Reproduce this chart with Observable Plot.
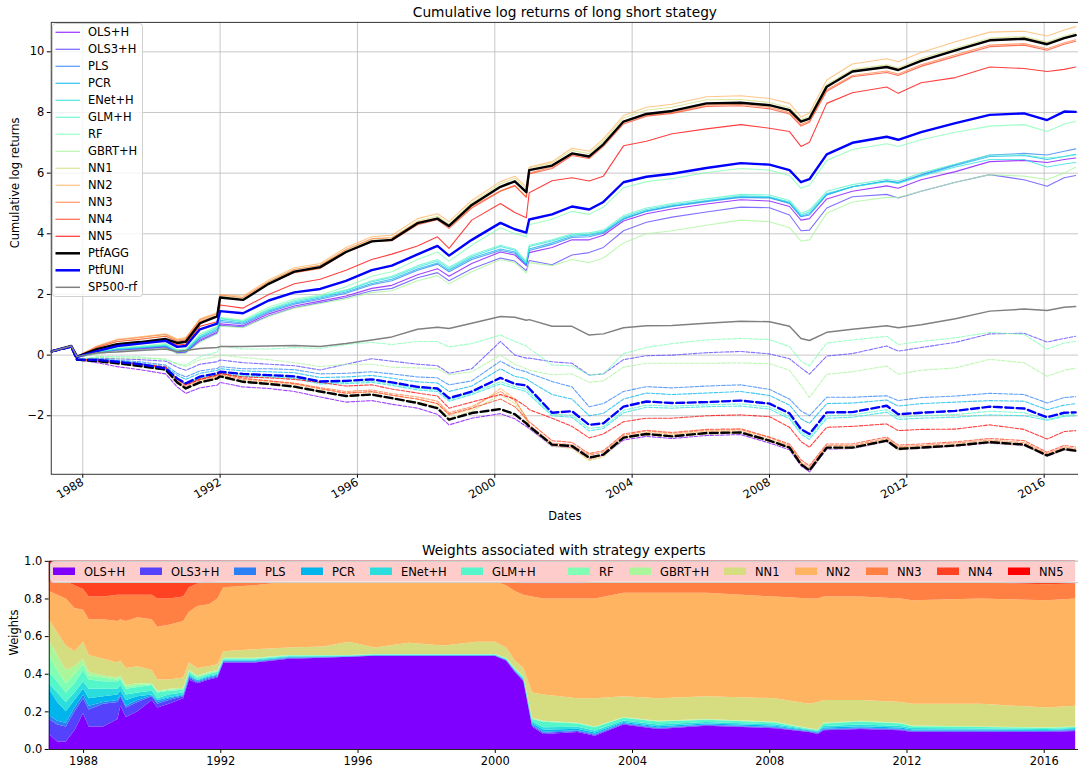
<!DOCTYPE html>
<html><head><meta charset="utf-8">
<script src="https://cdn.jsdelivr.net/npm/d3@7"></script>
<script src="https://cdn.jsdelivr.net/npm/@observablehq/plot@0.6"></script>
<style>
html,body{margin:0;padding:0;background:#fff;overflow:hidden;}
#root{position:relative;width:1078px;height:773px;overflow:hidden;font-family:"DejaVu Sans",sans-serif;}
#top{position:absolute;left:0;top:0;}
#bottom{position:absolute;left:0;top:530px;}
#leg1,#leg2{position:absolute;left:0;top:0;}
</style></head><body>
<div id="root"><div id="top"></div><div id="bottom"></div><svg id="leg1"></svg><svg id="leg2"></svg></div>
<script>
// ---------- categories & ticks ----------
const expertNames = ["OLS+H","OLS3+H","PLS","PCR","ENet+H","GLM+H","RF","GBRT+H","NN1","NN2","NN3","NN4","NN5"];
const legendNames = ["OLS+H","OLS3+H","PLS","PCR","ENet+H","GLM+H","RF","GBRT+H","NN1","NN2","NN3","NN4","NN5","PtfAGG","PtfUNI","SP500-rf"];
const xTickYears = [1988,1992,1996,2000,2004,2008,2012,2016];
const yTicksTop = [-2,0,2,4,6,8,10];
const yTicksBottom = [0,0.2,0.4,0.6,0.8,1.0];

// ---------- top chart: dates (monthly knots) ----------
const dates = ["1987-02","1987-09","1987-11","1988-06","1989-01","1989-09","1990-06","1990-10","1991-01","1991-06","1991-12","1992-01","1992-09","1993-06","1994-03","1994-12","1995-09","1996-06","1997-01","1997-10","1998-05","1998-09","1999-05","2000-03","2000-08","2000-12","2001-01","2001-09","2002-04","2002-10","2003-03","2003-10","2004-06","2005-03","2006-03","2007-03","2008-01","2008-08","2008-12","2009-03","2009-09","2010-06","2011-06","2011-10","2012-06","2013-06","2014-06","2015-06","2016-02","2016-08","2016-12"];

// long (solid) cumulative log returns
const OLS_H  = [0.12,0.29,-0.07,0.06,0.16,0.21,0.27,0.08,0.10,0.50,0.75,1.03,0.97,1.36,1.62,1.78,1.95,2.20,2.30,2.65,2.85,2.60,3.02,3.40,3.30,2.95,3.38,3.55,3.80,3.80,3.95,4.42,4.66,4.82,4.98,5.12,5.08,4.90,4.45,4.50,5.15,5.40,5.58,5.50,5.78,6.05,6.38,6.42,6.35,6.45,6.50];
const OLS3_H = [0.12,0.29,-0.07,0.05,0.14,0.19,0.25,0.06,0.08,0.46,0.72,0.98,0.93,1.30,1.57,1.73,1.90,2.12,2.20,2.55,2.72,2.45,2.85,3.20,3.10,2.78,3.12,2.98,3.30,3.38,3.55,4.10,4.38,4.55,4.72,4.88,4.86,4.62,4.10,4.12,4.85,5.22,5.30,5.18,5.40,5.70,5.95,5.78,5.57,5.85,5.92];
const PLS    = [0.12,0.29,-0.07,0.07,0.18,0.23,0.29,0.10,0.12,0.55,0.80,1.10,1.02,1.41,1.68,1.84,2.04,2.32,2.45,2.80,3.00,2.75,3.15,3.45,3.36,2.98,3.45,3.65,3.88,3.90,4.02,4.48,4.74,4.90,5.06,5.20,5.18,5.00,4.56,4.62,5.28,5.55,5.75,5.70,5.95,6.28,6.60,6.65,6.60,6.72,6.80];
const PCR    = [0.12,0.29,-0.07,0.08,0.20,0.25,0.31,0.12,0.14,0.58,0.85,1.15,1.06,1.45,1.72,1.88,2.08,2.36,2.50,2.84,3.04,2.80,3.20,3.50,3.40,3.00,3.50,3.70,3.92,3.95,4.05,4.50,4.76,4.92,5.08,5.22,5.20,5.02,4.58,4.66,5.30,5.55,5.74,5.68,5.92,6.25,6.55,6.58,6.45,6.55,6.62];
const ENet_H = [0.12,0.29,-0.07,0.09,0.21,0.26,0.33,0.14,0.16,0.62,0.90,1.20,1.10,1.49,1.76,1.92,2.12,2.42,2.56,2.90,3.10,2.85,3.25,3.58,3.46,3.05,3.58,3.76,3.96,3.98,4.08,4.55,4.80,4.96,5.10,5.25,5.22,5.05,4.62,4.72,5.33,5.55,5.72,5.66,5.90,6.20,6.45,6.45,6.20,6.30,6.35];
const GLM_H  = [0.12,0.29,-0.07,0.10,0.22,0.28,0.35,0.16,0.18,0.65,0.93,1.22,1.12,1.52,1.80,1.95,2.15,2.45,2.60,2.95,3.15,2.90,3.30,3.62,3.50,3.10,3.62,3.80,4.00,4.03,4.12,4.60,4.85,5.00,5.15,5.30,5.28,5.10,4.68,4.78,5.40,5.62,5.80,5.75,6.00,6.30,6.60,6.60,6.50,6.55,6.60];
const RF     = [0.12,0.29,-0.07,0.10,0.25,0.30,0.38,0.18,0.20,0.70,0.95,1.25,1.15,1.58,1.85,1.98,2.25,2.60,2.75,3.15,3.40,3.10,3.62,4.20,4.00,3.90,4.30,4.48,4.74,4.64,4.88,5.52,5.72,5.82,6.02,6.15,6.10,5.92,5.50,5.60,6.42,6.78,6.97,6.88,7.10,7.35,7.55,7.60,7.37,7.62,7.70];
const GBRT_H = [0.12,0.29,-0.07,0.04,0.13,0.17,0.23,0.05,0.06,0.42,0.70,0.95,0.90,1.27,1.55,1.70,1.85,2.06,2.12,2.45,2.62,2.35,2.75,3.15,3.05,2.70,3.05,2.95,3.15,3.05,3.20,3.70,4.00,4.10,4.28,4.45,4.40,4.20,3.76,3.80,4.68,5.05,5.20,5.20,5.40,5.70,5.95,5.90,5.79,6.00,6.20];
const NN1    = [0.12,0.30,-0.05,0.26,0.45,0.53,0.63,0.47,0.52,1.12,1.33,1.95,1.88,2.42,2.82,2.96,3.46,3.82,3.87,4.42,4.58,4.32,5.02,5.65,5.83,5.47,6.17,6.33,6.75,6.64,7.05,7.82,8.08,8.17,8.42,8.43,8.33,8.16,7.76,7.88,8.92,9.42,9.57,9.47,9.78,10.12,10.45,10.50,10.32,10.52,10.62];
const NN2    = [0.12,0.31,-0.04,0.30,0.52,0.60,0.70,0.53,0.58,1.20,1.40,2.00,1.95,2.48,2.88,3.02,3.55,3.90,3.95,4.50,4.66,4.40,5.10,5.72,5.90,5.55,6.20,6.38,6.82,6.72,7.13,7.90,8.17,8.27,8.52,8.55,8.46,8.30,7.85,7.98,9.07,9.60,9.77,9.67,9.98,10.33,10.65,10.68,10.52,10.72,10.83];
const NN3    = [0.12,0.30,-0.05,0.28,0.50,0.58,0.68,0.50,0.55,1.17,1.36,1.98,1.90,2.42,2.82,2.96,3.48,3.84,3.87,4.38,4.52,4.22,4.90,5.42,5.60,5.22,6.00,6.20,6.62,6.52,6.93,7.68,7.92,8.00,8.25,8.27,8.17,8.00,7.60,7.72,8.75,9.22,9.37,9.27,9.57,9.90,10.22,10.27,10.10,10.30,10.40];
const NN4    = [0.12,0.29,-0.06,0.25,0.45,0.52,0.62,0.45,0.50,1.10,1.30,1.90,1.82,2.36,2.72,2.86,3.38,3.74,3.77,4.30,4.46,4.18,4.85,5.40,5.58,5.20,5.97,6.15,6.58,6.48,6.88,7.62,7.88,7.97,8.20,8.22,8.12,7.95,7.55,7.68,8.70,9.18,9.32,9.22,9.52,9.85,10.17,10.22,10.05,10.25,10.35];
const NN5    = [0.12,0.29,-0.07,0.20,0.36,0.42,0.50,0.33,0.36,0.95,1.10,1.65,1.55,2.00,2.35,2.50,2.80,3.15,3.33,3.60,3.90,3.52,4.45,5.00,4.70,4.53,5.35,5.75,5.85,5.74,5.90,6.90,7.05,7.30,7.46,7.60,7.48,7.37,6.88,7.02,8.30,8.65,8.84,8.63,8.98,9.15,9.50,9.45,9.35,9.42,9.50];
const PtfAGG = [0.12,0.30,-0.05,0.20,0.36,0.43,0.53,0.40,0.44,1.05,1.28,1.90,1.82,2.35,2.75,2.90,3.40,3.75,3.80,4.35,4.50,4.26,4.95,5.55,5.73,5.37,6.10,6.25,6.65,6.55,6.95,7.70,7.95,8.05,8.30,8.32,8.24,8.08,7.70,7.80,8.85,9.35,9.50,9.40,9.70,10.05,10.38,10.43,10.25,10.45,10.55];
const PtfUNI = [0.12,0.29,-0.06,0.13,0.30,0.38,0.47,0.27,0.30,0.85,1.04,1.45,1.38,1.80,2.07,2.18,2.45,2.80,2.95,3.32,3.60,3.28,3.80,4.36,4.15,4.04,4.47,4.64,4.90,4.80,5.05,5.70,5.88,5.98,6.17,6.33,6.28,6.10,5.70,5.80,6.62,7.00,7.20,7.10,7.35,7.65,7.92,7.97,7.75,8.03,8.02];
const SP500_rf = [0.12,0.30,-0.05,0.08,0.10,0.15,0.20,0.12,0.15,0.22,0.25,0.28,0.28,0.30,0.32,0.28,0.38,0.50,0.60,0.85,0.92,0.88,1.05,1.27,1.25,1.15,1.17,0.95,0.95,0.66,0.70,0.90,0.97,0.98,1.05,1.12,1.10,0.95,0.55,0.48,0.75,0.85,0.97,0.90,1.00,1.20,1.45,1.52,1.47,1.58,1.60];

// short (dashed) cumulative log returns
const OLS_H_s  = [0.12,0.28,-0.15,-0.25,-0.38,-0.48,-0.62,-1.05,-1.26,-1.08,-0.99,-0.90,-1.05,-1.10,-1.20,-1.38,-1.55,-1.50,-1.62,-1.75,-1.95,-2.30,-2.08,-1.93,-2.10,-2.35,-2.42,-3.00,-3.05,-3.40,-3.30,-2.80,-2.68,-2.75,-2.65,-2.62,-2.90,-3.12,-3.65,-3.85,-3.10,-3.08,-2.85,-3.12,-3.07,-3.00,-2.90,-2.98,-3.33,-3.12,-3.18];
const OLS3_H_s = [0.12,0.28,-0.15,-0.10,-0.12,-0.15,-0.20,-0.40,-0.50,-0.30,-0.22,-0.16,-0.25,-0.30,-0.35,-0.49,-0.30,-0.12,-0.20,-0.30,-0.35,-0.60,-0.45,0.45,0.00,-0.10,-0.10,-0.22,-0.27,-0.66,-0.62,-0.15,-0.02,0.00,0.08,0.12,0.04,-0.12,-0.42,-0.63,-0.03,0.05,0.30,0.13,0.25,0.42,0.70,0.72,0.43,0.55,0.62];
const PLS_s    = [0.12,0.28,-0.15,-0.12,-0.17,-0.22,-0.33,-0.60,-0.72,-0.52,-0.44,-0.38,-0.45,-0.45,-0.48,-0.62,-0.60,-0.55,-0.62,-0.72,-0.75,-0.98,-0.85,-0.20,-0.45,-0.55,-0.60,-0.87,-1.05,-1.70,-1.60,-1.20,-1.04,-1.08,-1.02,-0.98,-1.13,-1.45,-1.84,-2.00,-1.39,-1.39,-1.34,-1.50,-1.40,-1.35,-1.26,-1.30,-1.58,-1.40,-1.37];
const PCR_s    = [0.12,0.28,-0.15,-0.13,-0.19,-0.26,-0.38,-0.66,-0.80,-0.60,-0.50,-0.45,-0.52,-0.55,-0.58,-0.74,-0.72,-0.67,-0.76,-0.88,-0.92,-1.20,-1.02,-0.45,-0.70,-0.78,-0.85,-1.30,-1.45,-2.00,-1.92,-1.45,-1.25,-1.30,-1.25,-1.20,-1.33,-1.65,-2.10,-2.25,-1.60,-1.58,-1.48,-1.68,-1.60,-1.55,-1.50,-1.52,-1.80,-1.65,-1.60];
const ENet_H_s = [0.12,0.28,-0.15,-0.17,-0.24,-0.33,-0.47,-0.80,-0.96,-0.76,-0.66,-0.62,-0.70,-0.72,-0.77,-0.95,-0.94,-0.90,-1.00,-1.15,-1.20,-1.52,-1.30,-0.95,-1.10,-1.20,-1.30,-2.00,-2.05,-2.50,-2.42,-1.90,-1.72,-1.75,-1.70,-1.68,-1.78,-2.10,-2.60,-2.78,-2.08,-2.05,-1.88,-2.12,-2.08,-2.05,-1.97,-2.00,-2.15,-2.02,-2.00];
const GLM_H_s  = [0.12,0.28,-0.15,-0.16,-0.23,-0.31,-0.45,-0.78,-0.94,-0.74,-0.63,-0.58,-0.66,-0.69,-0.74,-0.91,-0.90,-0.86,-0.96,-1.10,-1.15,-1.47,-1.25,-0.88,-1.04,-1.12,-1.22,-1.95,-1.98,-2.42,-2.36,-1.82,-1.65,-1.68,-1.64,-1.61,-1.71,-2.03,-2.53,-2.70,-2.00,-1.97,-1.80,-2.05,-2.00,-1.96,-1.85,-1.90,-2.12,-1.98,-1.96];
const RF_s     = [0.12,0.28,-0.15,-0.05,-0.05,-0.06,-0.16,-0.28,-0.33,-0.05,0.10,0.30,0.20,0.20,0.25,0.22,0.35,0.42,0.35,0.45,0.45,0.27,0.38,0.66,0.45,0.30,0.22,-0.33,-0.35,-0.66,-0.62,0.05,0.25,0.38,0.50,0.55,0.51,0.28,-0.20,-0.36,0.40,0.50,0.62,0.35,0.45,0.57,0.75,0.68,0.20,0.40,0.45];
const GBRT_H_s = [0.12,0.28,-0.15,-0.08,-0.10,-0.10,-0.12,-0.30,-0.38,-0.15,-0.05,0.00,-0.08,-0.15,-0.25,-0.38,-0.30,-0.30,-0.40,-0.42,-0.45,-0.65,-0.55,0.00,-0.30,-0.45,-0.50,-0.65,-0.62,-0.90,-0.85,-0.40,-0.27,-0.27,-0.27,-0.26,-0.28,-0.50,-1.00,-1.40,-0.63,-0.55,-0.36,-0.63,-0.50,-0.42,-0.14,-0.25,-0.70,-0.50,-0.43];
const NN1_s    = [0.12,0.28,-0.15,-0.21,-0.29,-0.38,-0.50,-0.92,-1.12,-0.92,-0.79,-0.72,-0.90,-0.97,-1.06,-1.22,-1.37,-1.32,-1.44,-1.55,-1.70,-2.08,-1.85,-1.30,-1.60,-2.15,-2.38,-3.00,-3.08,-3.48,-3.36,-2.76,-2.62,-2.69,-2.60,-2.58,-2.85,-3.08,-3.62,-3.82,-3.08,-3.08,-2.85,-3.12,-3.08,-3.00,-2.90,-2.98,-3.34,-3.13,-3.18];
const NN2_s    = [0.12,0.28,-0.15,-0.19,-0.25,-0.33,-0.45,-0.86,-1.06,-0.86,-0.73,-0.66,-0.84,-0.90,-0.97,-1.12,-1.27,-1.22,-1.33,-1.45,-1.60,-1.98,-1.78,-1.10,-1.45,-2.10,-2.35,-2.97,-3.05,-3.45,-3.32,-2.72,-2.55,-2.62,-2.52,-2.50,-2.78,-3.02,-3.58,-3.80,-3.02,-3.02,-2.78,-3.06,-3.02,-2.95,-2.84,-2.92,-3.30,-3.07,-3.12];
const NN3_s    = [0.12,0.28,-0.15,-0.18,-0.24,-0.31,-0.42,-0.83,-1.02,-0.82,-0.70,-0.63,-0.80,-0.85,-0.92,-1.07,-1.20,-1.15,-1.27,-1.38,-1.52,-1.90,-1.70,-1.20,-1.50,-2.05,-2.30,-2.90,-2.95,-3.30,-3.20,-2.65,-2.50,-2.58,-2.48,-2.46,-2.72,-2.98,-3.52,-3.72,-2.98,-2.98,-2.75,-3.02,-2.98,-2.90,-2.80,-2.88,-3.25,-3.03,-3.08];
const NN4_s    = [0.12,0.28,-0.15,-0.17,-0.22,-0.29,-0.39,-0.80,-0.98,-0.79,-0.67,-0.60,-0.76,-0.85,-0.94,-1.10,-1.25,-1.20,-1.32,-1.45,-1.60,-1.95,-1.75,-1.45,-1.70,-2.10,-2.20,-2.82,-2.88,-3.25,-3.15,-2.60,-2.48,-2.55,-2.45,-2.43,-2.70,-2.93,-3.45,-3.65,-2.93,-2.93,-2.70,-2.97,-2.93,-2.86,-2.75,-2.82,-3.20,-2.98,-3.03];
const NN5_s    = [0.12,0.28,-0.15,-0.15,-0.22,-0.30,-0.40,-0.78,-0.98,-0.80,-0.65,-0.60,-0.72,-0.75,-0.80,-0.90,-1.02,-0.98,-1.12,-1.25,-1.35,-1.75,-1.55,-1.30,-1.45,-1.70,-1.80,-2.08,-2.35,-2.73,-2.60,-2.20,-2.08,-2.08,-2.00,-1.97,-2.03,-2.38,-2.85,-3.04,-2.38,-2.35,-2.27,-2.49,-2.45,-2.44,-2.30,-2.45,-2.77,-2.52,-2.49];
const PtfAGG_s = [0.12,0.28,-0.15,-0.20,-0.27,-0.36,-0.48,-0.90,-1.10,-0.90,-0.77,-0.70,-0.88,-0.95,-1.04,-1.20,-1.35,-1.30,-1.42,-1.58,-1.75,-2.13,-1.91,-1.78,-1.95,-2.25,-2.35,-2.95,-3.00,-3.38,-3.28,-2.72,-2.60,-2.68,-2.57,-2.55,-2.82,-3.05,-3.60,-3.80,-3.05,-3.05,-2.82,-3.09,-3.05,-2.98,-2.87,-2.95,-3.31,-3.10,-3.15];
const PtfUNI_s = [0.12,0.28,-0.15,-0.16,-0.22,-0.30,-0.44,-0.77,-0.93,-0.71,-0.60,-0.55,-0.62,-0.66,-0.70,-0.87,-0.85,-0.80,-0.90,-1.05,-1.10,-1.42,-1.20,-0.75,-0.95,-1.00,-1.10,-1.90,-1.85,-2.30,-2.25,-1.70,-1.53,-1.58,-1.55,-1.50,-1.60,-1.92,-2.44,-2.60,-1.89,-1.88,-1.67,-1.95,-1.90,-1.84,-1.70,-1.76,-2.05,-1.90,-1.89];

// ---------- bottom chart: weights ----------
const wDates = ["1987-01","1987-04","1987-07","1987-10","1988-01","1988-03","1988-08","1989-01","1989-02","1989-04","1989-08","1990-01","1990-03","1990-07","1990-12","1991-02","1991-05","1991-09","1991-12","1992-02","1993-01","1994-01","1995-01","1995-10","1996-07","1997-07","1998-07","1999-07","2000-01","2000-05","2000-08","2000-11","2001-02","2001-06","2002-06","2002-12","2003-10","2004-10","2006-03","2008-03","2009-03","2009-06","2009-08","2010-09","2011-11","2012-03","2014-03","2016-02","2016-12"];
const w_OLS_H  = [.08,.04,.04,.10,.19,.12,.12,.16,.23,.17,.20,.26,.22,.24,.27,.37,.35,.37,.38,.46,.46,.48,.485,.49,.495,.495,.495,.495,.495,.47,.41,.36,.12,.08,.09,.07,.13,.106,.124,.11,.09,.08,.10,.106,.10,.09,.09,.09,.095];
const w_OLS3_H = [.08,.09,.08,.10,.08,.09,.12,.09,.05,.05,.05,.02,.02,.02,.01,.01,.005,.005,.005,.003,.003,.003,.002,.001,.001,.001,.001,.001,.001,.002,.003,.004,.005,.006,.005,.005,.004,.004,.003,.004,.003,.004,.004,.004,.004,.004,.004,.004,.004];
const w_PLS    = [.02,.02,.02,.02,.02,.02,.01,.01,.01,.01,.01,.005,.01,.01,.005,.005,.005,.005,.005,.003,.003,.003,.002,.001,.001,.001,.001,.001,.001,.002,.003,.003,.005,.006,.005,.005,.004,.004,.003,.004,.003,.003,.004,.004,.004,.004,.004,.003,.003];
const w_PCR    = [.14,.10,.06,.04,.03,.04,.03,.03,.02,.03,.02,.005,.01,.005,.005,.005,.005,.005,.005,.004,.004,.003,.002,.002,.002,.002,.002,.002,.002,.002,.003,.004,.008,.01,.008,.008,.006,.007,.006,.006,.003,.004,.006,.007,.006,.006,.005,.004,.004];
const w_ENet_H = [.03,.05,.05,.04,.04,.05,.04,.03,.03,.03,.02,.02,.01,.015,.01,.01,.005,.005,.005,.005,.005,.004,.003,.002,.002,.002,.002,.002,.002,.003,.004,.005,.01,.014,.01,.01,.008,.009,.008,.007,.004,.005,.008,.009,.008,.007,.006,.005,.005];
const w_GLM_H  = [.06,.06,.05,.05,.06,.05,.04,.04,.03,.03,.03,.03,.03,.02,.015,.01,.01,.01,.01,.005,.005,.004,.003,.002,.002,.002,.002,.002,.002,.003,.005,.006,.012,.029,.017,.017,.014,.016,.012,.01,.005,.006,.014,.016,.014,.01,.008,.006,.006];
const w_RF     = [.09,.06,.05,.05,.03,.02,.02,.01,.01,.01,.01,.005,.005,.005,.005,.005,.005,.005,.005,.003,.003,.002,.002,.001,.001,.001,.001,.001,.001,.002,.001,.002,.003,.003,.003,.003,.002,.002,.002,.002,.001,.002,.002,.002,.002,.002,.002,.002,.002];
const w_GBRT_H = [.08,.08,.07,.04,.03,.02,.01,.01,.01,.01,.01,.005,.005,.005,.005,.005,.005,.005,.005,.002,.002,.001,.001,.001,.001,.001,.001,.001,.001,.001,.001,.001,.002,.002,.002,.002,.002,.002,.002,.002,.001,.001,.002,.002,.002,.002,.001,.001,.001];
const w_NN1    = [.11,.12,.13,.08,.09,.09,.09,.08,.08,.09,.09,.07,.06,.05,.055,.04,.04,.03,.03,.035,.045,.04,.045,.07,.035,.06,.045,.065,.065,.055,.04,.045,.135,.14,.13,.15,.11,.12,.12,.125,.13,.145,.12,.11,.11,.115,.12,.105,.11];
const w_NN2    = [.15,.20,.25,.23,.17,.19,.21,.22,.22,.25,.26,.27,.28,.29,.30,.27,.33,.33,.35,.34,.34,.35,.345,.32,.35,.325,.34,.32,.32,.33,.37,.39,.51,.51,.53,.53,.55,.56,.55,.54,.56,.55,.55,.55,.55,.55,.56,.57,.57];
const w_NN3    = [.05,.07,.09,.12,.11,.12,.12,.14,.13,.14,.12,.13,.15,.14,.13,.13,.12,.115,.09,.03,.02,0,0,0,0,0,0,0,0,.02,.05,.06,.07,.08,.08,.085,.06,.06,.06,.08,.09,.09,.08,.08,.09,.095,.085,.085,.08];
const w_NN4    = [0,0,0,.02,.04,.08,.08,.07,.07,.07,.07,.07,.09,.09,.08,.03,.01,0,0,0,0,0,0,0,0,0,0,0,0,0,0,.005,.005,.005,.005,.005,0,0,0,0,0,0,0,0,0,.005,.005,.01,.01];
const w_NN5    = [.11,.11,.11,.11,.11,.11,.11,.11,.11,.11,.11,.11,.11,.11,.11,.11,.11,.115,.11,.11,.11,.11,.11,.11,.11,.11,.11,.11,.11,.11,.11,.115,.115,.115,.115,.11,.11,.11,.11,.11,.11,.11,.11,.11,.11,.11,.11,.115,.11];

// ---------- styles ----------
const palette = ["#8000ff","#5542fd","#2b80f6","#00b4ec","#2bdddd","#55f6ca","#80ffb4","#aaf69b","#d5dd80","#ffb462","#ff8042","#ff4221","#ff0000"];
const FONT = "DejaVu Sans";

// ---------- build tables ----------
const parseM = d3.utcParse("%Y-%m");
const xTickDates = xTickYears.map(y => new Date(Date.UTC(y, 0, 1)));
const longArrays  = [OLS_H, OLS3_H, PLS, PCR, ENet_H, GLM_H, RF, GBRT_H, NN1, NN2, NN3, NN4, NN5];
const shortArrays = [OLS_H_s, OLS3_H_s, PLS_s, PCR_s, ENet_H_s, GLM_H_s, RF_s, GBRT_H_s, NN1_s, NN2_s, NN3_s, NN4_s, NN5_s];
const wArrays = [w_OLS_H, w_OLS3_H, w_PLS, w_PCR, w_ENet_H, w_GLM_H, w_RF, w_GBRT_H, w_NN1, w_NN2, w_NN3, w_NN4, w_NN5];
const toRows = (arr, name) => dates.map((d, i) => ({date: parseM(d), v: arr[i], name}));
const solidRows = expertNames.flatMap((n, i) => toRows(longArrays[i], n));
const dashRows  = expertNames.flatMap((n, i) => toRows(shortArrays[i], n));
const wRows = expertNames.flatMap((n, i) => wDates.map((d, j) => ({date: parseM(d), w: wArrays[i][j], name: n})));

// ---------- top chart ----------
const topPlot = Plot.plot({
  width: 1083, height: 530,
  marginLeft: 51, marginRight: 0, marginTop: 22, marginBottom: 54,
  style: {fontFamily: FONT, fontSize: "11.5px", color: "#000", background: "transparent", overflow: "visible"},
  x: {type: "utc", domain: [new Date(Date.UTC(1987,0,31)), new Date(Date.UTC(2016,11,31))], ticks: xTickDates, tickFormat: "%Y", tickRotate: -30, tickSize: 4, tickPadding: 3, label: null},
  y: {domain: [-3.93, 10.97], ticks: yTicksTop, tickSize: 4, tickPadding: 3, label: null},
  color: {domain: expertNames, range: palette},
  marks: [
    Plot.ruleX(xTickDates, {stroke: "#b0b0b0", strokeWidth: 1, strokeOpacity: 0.7}),
    Plot.ruleY(yTicksTop, {stroke: "#b0b0b0", strokeWidth: 1, strokeOpacity: 0.7}),
    Plot.lineY(solidRows, {x: "date", y: "v", z: "name", stroke: "name", strokeWidth: 1.1, strokeOpacity: 0.75, clip: true}),
    Plot.lineY(dashRows, {x: "date", y: "v", z: "name", stroke: "name", strokeWidth: 1.1, strokeOpacity: 0.75, strokeDasharray: "3.7,1.6", clip: true}),
    Plot.lineY(toRows(PtfAGG, "PtfAGG"), {x: "date", y: "v", stroke: "#000", strokeWidth: 2.4, clip: true}),
    Plot.lineY(toRows(PtfAGG_s, "PtfAGG"), {x: "date", y: "v", stroke: "#000", strokeWidth: 2.4, strokeDasharray: "8,3.5", clip: true}),
    Plot.lineY(toRows(PtfUNI, "PtfUNI"), {x: "date", y: "v", stroke: "#0000ff", strokeWidth: 2.4, clip: true}),
    Plot.lineY(toRows(PtfUNI_s, "PtfUNI"), {x: "date", y: "v", stroke: "#0000ff", strokeWidth: 2.4, strokeDasharray: "8,3.5", clip: true}),
    Plot.lineY(toRows(SP500_rf, "SP500-rf"), {x: "date", y: "v", stroke: "#808080", strokeWidth: 1.5, clip: true}),
    Plot.frame({stroke: "#333", strokeWidth: 1}),
    Plot.text(["Cumulative log returns of long short stategy"], {text: d => d, frameAnchor: "top", lineAnchor: "middle", dy: -10, fontSize: 13.8}),
    Plot.text(["Dates"], {text: d => d, frameAnchor: "bottom", lineAnchor: "middle", dy: 42}),
    Plot.text(["Cumulative log returns"], {text: d => d, frameAnchor: "left", lineAnchor: "middle", dx: -36, rotate: -90})
  ]
});
document.getElementById("top").appendChild(topPlot);

// ---------- bottom chart ----------
const bottomPlot = Plot.plot({
  width: 1083, height: 243,
  marginLeft: 49, marginRight: 0, marginTop: 31, marginBottom: 23,
  style: {fontFamily: FONT, fontSize: "11.5px", color: "#000", background: "transparent", overflow: "visible"},
  x: {type: "utc", domain: [new Date(Date.UTC(1987,0,1)), new Date(Date.UTC(2016,11,31))], ticks: xTickDates, tickFormat: "%Y", tickSize: 4, tickPadding: 3, label: null},
  y: {domain: [0, 1], ticks: yTicksBottom, tickFormat: ".1f", tickSize: 4, tickPadding: 3, label: null},
  color: {domain: expertNames, range: palette},
  marks: [
    Plot.areaY(wRows, {x: "date", y: "w", z: "name", fill: "name", order: expertNames, curve: "linear"}),
    Plot.frame({stroke: "#222", strokeWidth: 1}),
    Plot.text(["Weights associated with strategy experts"], {text: d => d, frameAnchor: "top", lineAnchor: "middle", dy: -11, fontSize: 13.8}),
    Plot.text(["Weights"], {text: d => d, frameAnchor: "left", lineAnchor: "middle", dx: -35, rotate: -90})
  ]
});
document.getElementById("bottom").appendChild(bottomPlot);

// ---------- legends ----------
const legendStyle = [
  ...palette.map(c => ({stroke: c, width: 1.3, opacity: 0.75})),
  {stroke: "#000", width: 2.5, opacity: 1},
  {stroke: "#0000ff", width: 2.5, opacity: 1},
  {stroke: "#808080", width: 1.5, opacity: 1}
];
const leg1 = d3.select("#leg1").attr("width", 1078).attr("height", 530).style("pointer-events", "none");
leg1.append("rect").attr("x", 52.5).attr("y", 23.5).attr("width", 90).attr("height", 273)
  .attr("rx", 3).attr("fill", "#fff").attr("fill-opacity", 0.8).attr("stroke", "#d0d0d0");
legendNames.forEach((n, i) => {
  const y = 32.3 + 17 * i;
  const s = legendStyle[i];
  leg1.append("line").attr("x1", 55.5).attr("x2", 80).attr("y1", y).attr("y2", y)
    .attr("stroke", s.stroke).attr("stroke-width", s.width).attr("stroke-opacity", s.opacity);
  leg1.append("text").attr("x", 88).attr("y", y).attr("dy", "0.35em")
    .attr("font-family", FONT).attr("font-size", 11.5).attr("fill", "#000").text(n);
});

const leg2PatchX = [53,140,234,301,370,461,568,629,724,795,866,937,1008];
const leg2 = d3.select("#leg2").attr("width", 1078).attr("height", 773).style("pointer-events", "none");
leg2.append("rect").attr("x", 50.5).attr("y", 561.5).attr("width", 1040).attr("height", 21)
  .attr("rx", 3).attr("fill", "#fff").attr("fill-opacity", 0.8).attr("stroke", "#d0d0d0");
expertNames.forEach((n, i) => {
  const x = leg2PatchX[i];
  leg2.append("rect").attr("x", x).attr("y", 567.5).attr("width", 22).attr("height", 7.5).attr("fill", palette[i]);
  leg2.append("text").attr("x", x + 31).attr("y", 571.5).attr("dy", "0.35em")
    .attr("font-family", FONT).attr("font-size", 11.5).attr("fill", "#000").text(n);
});
</script>
</body></html>
